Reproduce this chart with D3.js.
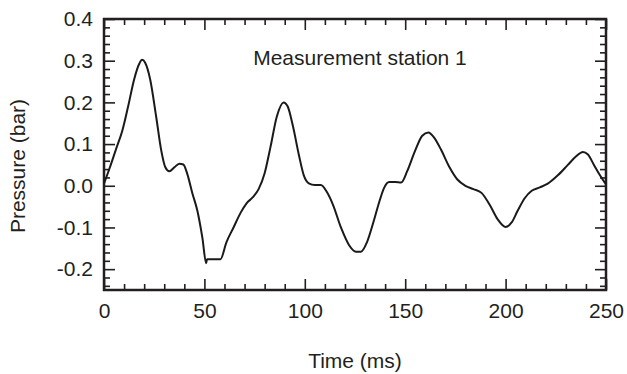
<!DOCTYPE html>
<html>
<head>
<meta charset="utf-8">
<script src="https://cdn.jsdelivr.net/npm/d3@7"></script>
<style>
  body { margin: 0; background: #fff; }
  text { font-family: "Liberation Sans", Arial, sans-serif; fill: #231f20; }
</style>
</head>
<body>
<div id="app"></div>
<script>
const WIDTH = 627;
const HEIGHT = 374;
const MARGIN = { top: 19, right: 21, bottom: 84, left: 104 };
const MAJOR_TICK = 11;
const MINOR_TICK = 6;
const FONT_SIZE = 21;

// time (ms) and pressure (bar)
const timeMs = [
  0, 3, 6, 9, 12, 15, 17.5, 19, 20.5, 23, 26, 28.5, 30.5, 32.5, 35, 37.5, 39.5,
  41.5, 44, 46.5, 49, 50.9, 51.3, 54, 58, 61, 64.5, 68, 71, 74, 77, 80, 83, 86,
  89.5, 91.5, 94, 97, 99.5, 102, 105, 108, 111, 114, 118, 122, 125.5, 128, 131,
  134, 137, 139.5, 142, 145, 148, 151, 155, 158.5, 161.5, 164.5, 168, 172, 176,
  180, 184, 188, 192, 196, 200, 203, 206, 209.5, 213, 217, 221, 226, 231, 235,
  238.5, 241, 244, 247, 250,
];
const pressureBar = [
  0.005, 0.045, 0.088, 0.13, 0.19, 0.255, 0.292, 0.302, 0.295, 0.255, 0.165,
  0.085, 0.045, 0.035, 0.044, 0.053, 0.051, 0.028, -0.018, -0.06, -0.125,
  -0.186, -0.176, -0.176, -0.176, -0.135, -0.1, -0.065, -0.042, -0.028, -0.008,
  0.03, 0.095, 0.165, 0.2, 0.19, 0.145, 0.075, 0.025, 0.006, 0.002, 0.002,
  -0.015, -0.045, -0.1, -0.142, -0.158, -0.158, -0.135, -0.09, -0.04, -0.005,
  0.009, 0.009, 0.008, 0.035, 0.085, 0.12, 0.128, 0.115, 0.085, 0.045, 0.015,
  0.0, -0.008, -0.017, -0.045, -0.08, -0.099, -0.088, -0.06, -0.03, -0.012,
  -0.004, 0.005, 0.025, 0.05, 0.07, 0.081, 0.075, 0.05, 0.025, 0.003,
];

const xMajorTicks = [0, 50, 100, 150, 200, 250];
const yMajorTicks = [-0.2, -0.1, 0.0, 0.1, 0.2, 0.3, 0.4];
const xDomain = [0, 250];
const yDomain = [-0.25, 0.4];
const chartTitle = "Measurement station 1";
const xLabel = "Time (ms)";
const yLabel = "Pressure (bar)";

const innerW = WIDTH - MARGIN.left - MARGIN.right;
const innerH = HEIGHT - MARGIN.top - MARGIN.bottom;

const x = d3.scaleLinear().domain(xDomain).range([0, innerW]);
const y = d3.scaleLinear().domain(yDomain).range([innerH, 0]);

const xMinorTicks = d3.range(0, 251, 10).filter((t) => t % 50 !== 0);
const yMinorTicks = d3
  .range(-24, 41, 2)
  .filter((v) => v % 10 !== 0)
  .map((v) => v / 100);

const svg = d3
  .select("#app")
  .append("svg")
  .attr("width", WIDTH)
  .attr("height", HEIGHT);

const g = svg
  .append("g")
  .attr("transform", `translate(${MARGIN.left},${MARGIN.top})`);

function styleAxis(sel) {
  sel.select(".domain").remove();
  sel.selectAll(".tick line").attr("stroke", "#231f20").attr("stroke-width", 1.6);
  sel.selectAll(".tick text").style("font-size", FONT_SIZE + "px").attr("fill", "#231f20");
}

// bottom axis: major with labels, minor without, ticks point inward
g.append("g")
  .attr("transform", `translate(0,${innerH})`)
  .call(d3.axisTop(x).tickValues(xMajorTicks).tickSize(MAJOR_TICK).tickFormat(""))
  .call(styleAxis);
g.append("g")
  .attr("transform", `translate(0,${innerH})`)
  .call(d3.axisTop(x).tickValues(xMinorTicks).tickSize(MINOR_TICK).tickFormat(""))
  .call(styleAxis);
g.append("g")
  .attr("transform", `translate(0,${innerH})`)
  .call(d3.axisBottom(x).tickValues(xMajorTicks).tickSize(0).tickPadding(28).tickFormat(d3.format("d")))
  .call(styleAxis)
  .call((s) => s.selectAll(".tick text").attr("dy", "0"));

// top axis
g.append("g")
  .call(d3.axisBottom(x).tickValues(xMajorTicks).tickSize(MAJOR_TICK).tickFormat(""))
  .call(styleAxis);
g.append("g")
  .call(d3.axisBottom(x).tickValues(xMinorTicks).tickSize(MINOR_TICK).tickFormat(""))
  .call(styleAxis);

// left axis
g.append("g")
  .call(d3.axisRight(y).tickValues(yMajorTicks).tickSize(MAJOR_TICK).tickFormat(""))
  .call(styleAxis);
g.append("g")
  .call(d3.axisRight(y).tickValues(yMinorTicks).tickSize(MINOR_TICK).tickFormat(""))
  .call(styleAxis);
g.append("g")
  .call(d3.axisLeft(y).tickValues(yMajorTicks).tickSize(0).tickPadding(11).tickFormat(d3.format(".1f")))
  .call(styleAxis)
  .call((s) => s.selectAll(".tick text").text((d) => d3.format(".1f")(d).replace("−", "-")));

// right axis
g.append("g")
  .attr("transform", `translate(${innerW},0)`)
  .call(d3.axisLeft(y).tickValues(yMajorTicks).tickSize(MAJOR_TICK).tickFormat(""))
  .call(styleAxis);
g.append("g")
  .attr("transform", `translate(${innerW},0)`)
  .call(d3.axisLeft(y).tickValues(yMinorTicks).tickSize(MINOR_TICK).tickFormat(""))
  .call(styleAxis);

// frame
g.append("rect")
  .attr("width", innerW)
  .attr("height", innerH)
  .attr("fill", "none")
  .attr("stroke", "#231f20")
  .attr("stroke-width", 2.5);

// pressure trace
const series = timeMs.map((t, i) => [t, pressureBar[i]]);
const line = d3
  .line()
  .x((d) => x(d[0]))
  .y((d) => y(d[1]))
  .curve(d3.curveMonotoneX);

g.append("path")
  .datum(series)
  .attr("fill", "none")
  .attr("stroke", "#1a1a1a")
  .attr("stroke-width", 2)
  .attr("stroke-linejoin", "round")
  .attr("d", line);

// texts
g.append("text")
  .attr("x", 256)
  .attr("y", 46)
  .attr("text-anchor", "middle")
  .style("font-size", FONT_SIZE + "px")
  .text(chartTitle);

svg.append("text")
  .attr("x", MARGIN.left + innerW / 2)
  .attr("y", 368)
  .attr("text-anchor", "middle")
  .style("font-size", FONT_SIZE + "px")
  .text(xLabel);

svg.append("text")
  .attr("transform", "translate(25,166) rotate(-90)")
  .attr("text-anchor", "middle")
  .style("font-size", FONT_SIZE + "px")
  .text(yLabel);
</script>
</body>
</html>
